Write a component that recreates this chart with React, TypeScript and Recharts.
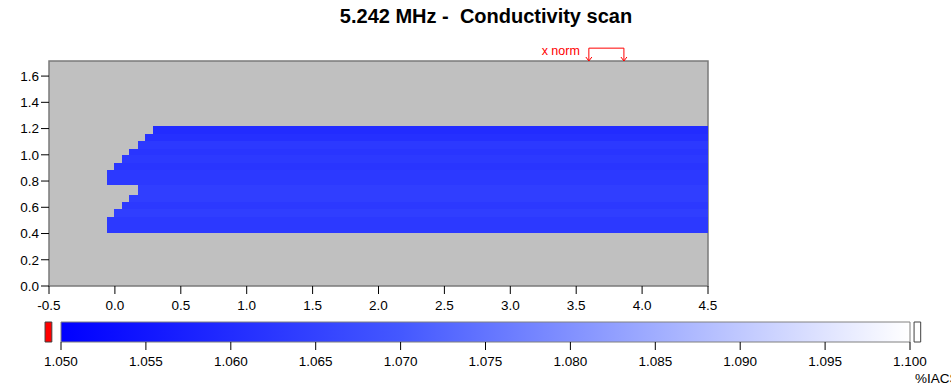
import React from 'react';
import { ComposedChart, XAxis, YAxis, ReferenceArea, ReferenceLine } from 'recharts';

// ---- axes ----
const xTicks = [-0.5, 0, 0.5, 1, 1.5, 2, 2.5, 3, 3.5, 4, 4.5];
const yTicks = [0, 0.2, 0.4, 0.6, 0.8, 1.0, 1.2, 1.4, 1.6];
const xDomain = [-0.5, 4.5];
const yDomain = [0, 1.715];

// ---- scan region (rows of the staircase-shaped scan, bottom -> top) ----
const rowYBottom = [0.406, 0.527, 0.586, 0.642, 0.693, 0.769, 0.883, 0.941, 0.997, 1.048, 1.106, 1.162];
const rowYTop = [0.527, 0.586, 0.642, 0.693, 0.769, 0.883, 0.941, 0.997, 1.048, 1.106, 1.162, 1.218];
const rowXStart = [-0.058, -0.005, 0.056, 0.109, 0.177, -0.058, -0.005, 0.056, 0.109, 0.177, 0.23, 0.291];
const rowValue = [1.063, 1.064, 1.063, 1.064, 1.064, 1.063, 1.062, 1.063, 1.062, 1.063, 1.061, 1.060];
const scanXEnd = 4.5;

// ---- colour bar ----
const cbTicks = [1.05, 1.055, 1.06, 1.065, 1.07, 1.075, 1.08, 1.085, 1.09, 1.095, 1.1];
const cbMin = 1.05;
const cbMax = 1.1;
const cbUnit = '%IACS';
const lowMarker = [1.04906, 1.04946];
const highMarker = [1.10024, 1.10063];

// ---- annotation ----
const normLabel = 'x norm';
const normXStart = 3.596;
const normXEnd = 3.862;
const normBracketY = 1.813;
const normArrowTipY = 1.715;

const title = '5.242 MHz -  Conductivity scan';

// colour map stops (position 0..1, rgb)
const cmStops: [number, number[]][] = [
  [0, [0, 0, 255]],
  [0.4, [68, 88, 255]],
  [0.7, [160, 173, 255]],
  [1, [255, 255, 255]],
];

function colorFor(v: number) {
  const t = Math.max(0, Math.min(1, (v - cbMin) / (cbMax - cbMin)));
  for (let i = 0; i < cmStops.length - 1; i++) {
    const [p0, c0] = cmStops[i];
    const [p1, c1] = cmStops[i + 1];
    if (t >= p0 && t <= p1) {
      const f = (t - p0) / (p1 - p0);
      const c = c0.map((a, k) => Math.round(a + (c1[k] - a) * f));
      return `rgb(${c[0]},${c[1]},${c[2]})`;
    }
  }
  return 'rgb(255,255,255)';
}

const FONT = '"Liberation Sans", Arial, sans-serif';
const tickStyle = { fontFamily: FONT, fontSize: 13.5, fill: '#000' };

const BracketShape = (p: any) => {
  const { x1, y1, x2, y2 } = p;
  const a = 3;
  return (
    <g stroke="#ff0000" strokeWidth={1} fill="none">
      <line x1={x1} y1={y1} x2={x2} y2={y1} />
      <line x1={x1} y1={y1} x2={x1} y2={y2} />
      <line x1={x2} y1={y1} x2={x2} y2={y2} />
      <polyline points={`${x1 - a},${y2 - a - 1} ${x1},${y2} ${x1 + a},${y2 - a - 1}`} />
      <polyline points={`${x2 - a},${y2 - a - 1} ${x2},${y2} ${x2 + a},${y2 - a - 1}`} />
      <text x={x1 - 9} y={y1 + 7} textAnchor="end" fill="#ff0000" stroke="none"
        style={{ fontFamily: FONT, fontSize: 12.5 }}>{normLabel}</text>
    </g>
  );
};

export default function App() {
  return (
    <div style={{ position: 'absolute', left: 0, top: 0, width: 951, height: 391, background: '#fff' }}>
      <svg width={0} height={0} style={{ position: 'absolute' }}>
        <defs>
          <linearGradient id="cbGrad" x1="0" y1="0" x2="1" y2="0">
            {cmStops.map(([p, c]) => (
              <stop key={p} offset={p} stopColor={`rgb(${c[0]},${c[1]},${c[2]})`} />
            ))}
          </linearGradient>
        </defs>
      </svg>

      {/* main scan plot: occupies y 0..320 */}
      <div style={{ position: 'absolute', left: 0, top: 0, width: 951, height: 320 }}>
        <ComposedChart id="scanChart" width={951} height={320} margin={{ top: 61, right: 243, bottom: 4, left: 0 }}>
          <XAxis type="number" dataKey="x" domain={xDomain} ticks={xTicks} allowDataOverflow
            tickFormatter={(v: number) => v.toFixed(1)} tickSize={8} tickMargin={6}
            axisLine={false} tickLine={{ stroke: '#000' }} tick={tickStyle} height={30} interval={0} />
          <YAxis type="number" dataKey="y" domain={yDomain} ticks={yTicks} allowDataOverflow
            tickFormatter={(v: number) => v.toFixed(1)} tickSize={8} tickMargin={2}
            axisLine={false} tickLine={{ stroke: '#000' }} tick={tickStyle} width={49} interval={0} />
          <ReferenceArea x1={xDomain[0]} x2={xDomain[1]} y1={yDomain[0]} y2={yDomain[1]}
            fill="#c0c0c0" fillOpacity={1} stroke="#7a7a7a" strokeWidth={1.5} ifOverflow="visible" />
          {rowValue.map((v, i) => (
            <ReferenceArea key={i} x1={rowXStart[i]} x2={scanXEnd} y1={rowYBottom[i]} y2={rowYTop[i]}
              fill={colorFor(v)} fillOpacity={1} stroke="none" shapeRendering="crispEdges" />
          ))}
          <ReferenceLine segment={[{ x: normXStart, y: normBracketY }, { x: normXEnd, y: normArrowTipY }]}
            ifOverflow="visible" shape={BracketShape} stroke="#ff0000" />
        </ComposedChart>
      </div>

      {/* colour bar: occupies y 310..391, bar at 322..342 */}
      <div style={{ position: 'absolute', left: 0, top: 310, width: 951, height: 81 }}>
        <ComposedChart id="colorBarChart" width={951} height={81} margin={{ top: 12, right: 41, bottom: 19, left: 60 }}>
          <XAxis type="number" dataKey="v" domain={[cbMin, cbMax]} ticks={cbTicks} allowDataOverflow
            tickFormatter={(v: number) => v.toFixed(3)} tickSize={8} tickMargin={6}
            axisLine={false} tickLine={{ stroke: '#000', strokeWidth: 1 }} tick={tickStyle} height={30} interval={0} />
          <YAxis type="number" dataKey="w" domain={[0, 1]} allowDataOverflow width={1}
            tick={false} axisLine={false} tickLine={false} />
          <ReferenceArea x1={cbMin} x2={cbMax} y1={0} y2={1} fill="url(#cbGrad)" fillOpacity={1}
            stroke="#808080" strokeWidth={1} ifOverflow="visible" />
          <ReferenceArea x1={lowMarker[0]} x2={lowMarker[1]} y1={0} y2={1} fill="#ff0000" fillOpacity={1}
            stroke="#404040" strokeWidth={1} ifOverflow="visible" />
          <ReferenceArea x1={highMarker[0]} x2={highMarker[1]} y1={0} y2={1} fill="#ffffff" fillOpacity={1}
            stroke="#404040" strokeWidth={1} ifOverflow="visible" />
        </ComposedChart>
      </div>

      <svg width={951} height={391} style={{ position: 'absolute', left: 0, top: 0, pointerEvents: 'none' }}>
        <text x={486} y={23} textAnchor="middle" style={{ fontFamily: FONT, fontSize: 20, fontWeight: 'bold', whiteSpace: 'pre' }} fill="#000">{title}</text>
        <text x={915} y={383} style={{ fontFamily: FONT, fontSize: 13.5 }} fill="#000">{cbUnit}</text>
      </svg>
    </div>
  );
}
